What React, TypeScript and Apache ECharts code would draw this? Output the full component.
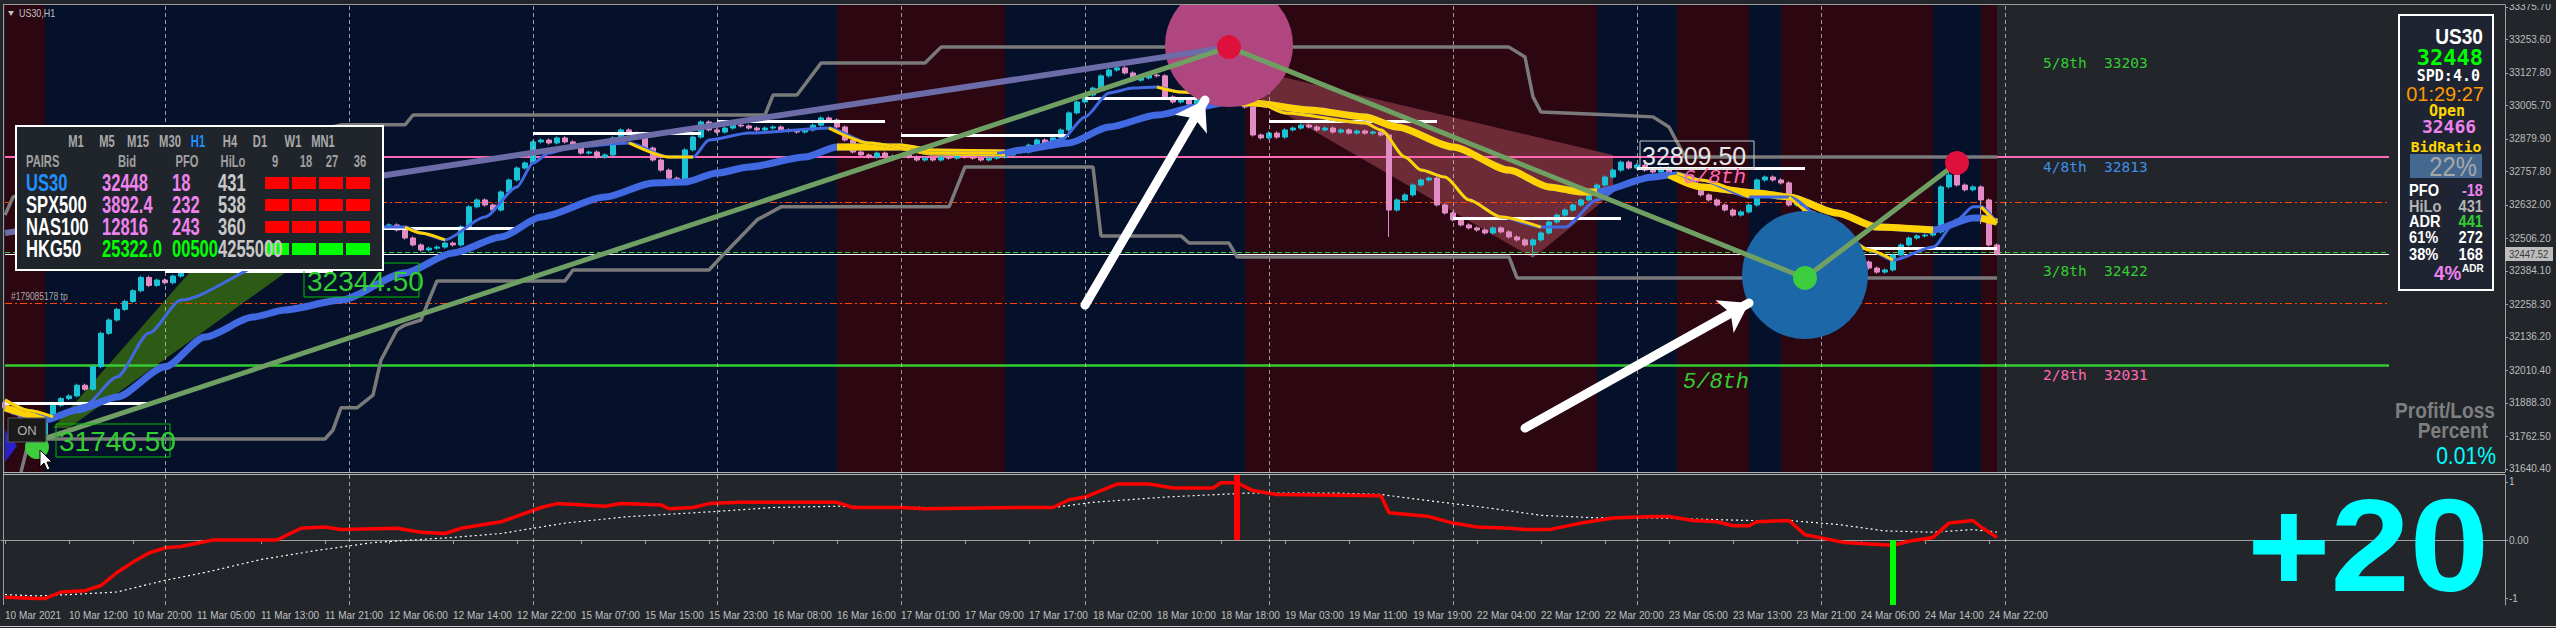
import React, { useEffect, useRef } from "react";
import * as echarts from "echarts";

// ---------------- DATA ----------------
const N_SLOTS = 313; // hourly slots on the time axis (incl. the empty right shift)

const TIME_TICKS = [
  "10 Mar 2021", "10 Mar 12:00", "10 Mar 20:00", "11 Mar 05:00", "11 Mar 13:00", "11 Mar 21:00",
  "12 Mar 06:00", "12 Mar 14:00", "12 Mar 22:00", "15 Mar 07:00", "15 Mar 15:00", "15 Mar 23:00",
  "16 Mar 08:00", "16 Mar 16:00", "17 Mar 01:00", "17 Mar 09:00", "17 Mar 17:00", "18 Mar 02:00",
  "18 Mar 10:00", "18 Mar 18:00", "19 Mar 03:00", "19 Mar 11:00", "19 Mar 19:00", "22 Mar 04:00",
  "22 Mar 12:00", "22 Mar 20:00", "23 Mar 05:00", "23 Mar 13:00", "23 Mar 21:00", "24 Mar 06:00",
  "24 Mar 14:00", "24 Mar 22:00",
];

const PRICE_TICKS = [
  33375.7, 33253.6, 33127.8, 33005.7, 32879.9, 32757.8, 32632.0, 32506.2,
  32384.1, 32258.3, 32136.2, 32010.4, 31888.3, 31762.5, 31640.4,
];
const PRICE_MIN = 31629.13;
const PRICE_MAX = 33383.21;
const BID = 32447.52;

const FIRST_OPEN = 31890;
const CLOSES = [
  31870, 31850, 31835, 31800, 31770, 31830, 31880, 31905, 31915, 31955,
  31940, 32025, 32150, 32200, 32240, 32270, 32310, 32360, 32330, 32350,
  32340, 32365, 32390, 32400, 32420, 32405, 32430, 32445, 32420, 32435,
  32410, 32395, 32385, 32400, 32420, 32445, 32470, 32460, 32490, 32500,
  32485, 32510, 32530, 32525, 32545, 32560, 32550, 32557, 32557, 32538,
  32508, 32482, 32463, 32470, 32474, 32489, 32482, 32550, 32625, 32651,
  32632, 32613, 32681, 32726, 32771, 32790, 32869, 32876, 32865, 32884,
  32869, 32846, 32827, 32831, 32812, 32820, 32884, 32914, 32902, 32887,
  32846, 32801, 32763, 32733, 32715, 32839, 32887, 32944, 32914, 32906,
  32921, 32932, 32929, 32921, 32914, 32921, 32925, 32914, 32910, 32906,
  32914, 32932, 32959, 32951, 32925, 32876, 32831, 32820, 32812, 32827,
  32812, 32816, 32820, 32812, 32801, 32808, 32801, 32812, 32808, 32820,
  32812, 32808, 32801, 32808, 32812, 32820, 32839, 32831, 32857, 32876,
  32850, 32884, 32914, 32978, 33019, 33045, 33071, 33117, 33139, 33147,
  33128, 33101, 33109, 33120, 33117, 33038, 33019, 33026, 33011, 33034,
  33060, 33110, 33170, 33150, 33080, 33000, 32895, 32884, 32902, 32887,
  32914, 32921, 32932, 32925, 32914, 32921, 32906, 32914, 32902, 32910,
  32902, 32906, 32895, 32613, 32651, 32670, 32707, 32726, 32733, 32632,
  32602, 32576, 32557, 32546, 32538, 32527, 32546, 32531, 32512, 32501,
  32482, 32501, 32527, 32568, 32594, 32613, 32632, 32651, 32670, 32707,
  32737, 32763, 32793, 32771, 32782, 32763, 32756, 32771, 32752, 32745,
  32733, 32707, 32670, 32651, 32632, 32613, 32594, 32606, 32632, 32726,
  32737, 32726, 32715, 32632, 32651, 32606, 32583, 32557, 32531, 32501,
  32470, 32444, 32418, 32395, 32380, 32388, 32444, 32482, 32508, 32516,
  32519, 32531, 32700, 32745, 32707, 32689, 32700, 32651, 32482, 32448,
];
// bars with a long wick: [low, high] (null = body end)
const WICK_EXTREMES: Record<number, [number | null, number | null]> = {
  4: [31746.5, null], 153: [null, 33223], 173: [32512, null],
  191: [32437, null], 243: [null, 32790], 247: [32560, null],
};

const THIN_MA = [
  [0, 31900], [3, 31860], [6, 31836], [10, 31880], [14, 31986], [18, 32151], [22, 32275], [34, 32426],
  [47, 32549], [50, 32549], [52, 32527], [55, 32501], [60, 32587], [64, 32700], [66, 32790], [68, 32827],
  [71, 32850], [78, 32865], [83, 32812], [86, 32812], [88, 32876], [93, 32902], [103, 32921], [108, 32865],
  [116, 32827], [124, 32827], [127, 32839], [132, 32876], [135, 32963], [138, 33053], [141, 33071], [144, 33075],
  [147, 33056], [156, 33026], [160, 32978], [170, 32940], [172, 32914], [175, 32812], [177, 32763], [180, 32737],
  [183, 32651], [187, 32587], [192, 32549], [195, 32549], [199, 32651], [202, 32700], [206, 32737], [209, 32752],
  [212, 32726], [218, 32662], [223, 32662], [229, 32538], [233, 32463], [236, 32425], [241, 32474], [244, 32576],
  [246, 32625], [247, 32625], [249, 32564],
];
const THIN_FALLING = [[0, 6], [50, 55], [78, 86], [103, 124], [144, 192], [209, 218], [223, 236], [247, 249]];

const THICK_MA = [
  [0, 31870], [5, 31825], [9, 31862], [14, 31911], [20, 32024], [25, 32136], [31, 32211], [35, 32238],
  [42, 32275], [50, 32377], [56, 32452], [62, 32512], [67, 32587], [75, 32662], [81, 32715], [85, 32718],
  [89, 32752], [93, 32775], [100, 32812], [104, 32850], [112, 32850], [116, 32831], [125, 32827], [127, 32839],
  [133, 32865], [138, 32925], [144, 32970], [149, 33000], [153, 33019], [156, 33015], [163, 32989], [170, 32963],
  [174, 32925], [181, 32850], [188, 32763], [193, 32700], [197, 32681], [199, 32681], [206, 32737], [208, 32745],
  [212, 32700], [219, 32677], [223, 32662], [229, 32602], [234, 32549], [241, 32538], [246, 32583], [247, 32583],
  [249, 32568],
];
const THICK_FALLING = [[0, 5], [104, 125], [153, 199], [208, 241], [247, 249]];

const UPPER_CHANNEL = [
  [0, 32594], [1, 32662], [42, 32933], [50, 32933], [51, 32970], [95, 32970], [96, 33045], [99, 33045],
  [102, 33165], [115, 33165], [117, 33225], [188, 33225], [190, 33188], [191, 33038], [192, 32981],
  [201, 32970], [206, 32963], [208, 32925], [210, 32812], [249, 32812],
];
const LOWER_CHANNEL = [
  [2, 31629], [3, 31749], [5, 31753], [40, 31753], [41, 31787], [42, 31870], [44, 31870], [46, 31918],
  [47, 32050], [49, 32163], [50, 32181], [52, 32200], [53, 32275], [54, 32347], [70, 32347], [71, 32388],
  [88, 32388], [90, 32452], [94, 32576], [97, 32625], [118, 32625], [120, 32775], [136, 32775], [137, 32516],
  [147, 32516], [148, 32489], [153, 32489], [154, 32437], [188, 32437], [189, 32358], [249, 32358],
];

const DAY_SEPARATORS = [20, 43, 66, 89, 112, 135, 158, 181, 204, 227, 250];
// [fromBar, toBar, session] 0 = bearish session, 1 = bullish session
const SESSION_BANDS = [
  [0, 5, 0], [5, 104, 1], [104, 125, 0], [125, 155, 1], [155, 199, 0], [199, 209, 1],
  [209, 218, 0], [218, 222, 1], [222, 241, 0], [241, 247, 1], [247, 249, 0],
];

// pink 4/8, orange TP/SL, green dashed, white bid, green 2/8
const LEVEL_PRICES = [32813, 32643, 32264, 32455, BID, 32031];
// daily pivot segments [fromBar, toBar, price]
const PIVOT_SEGMENTS = [
  [0, 18, 31889], [20, 41, 32384], [47, 64, 32545], [66, 87, 32902], [89, 110, 32947], [112, 133, 32894],
  [135, 149, 33034], [158, 179, 32947], [181, 202, 32583], [204, 225, 32771], [232, 249, 32470],
];

const TRENDLINE = [[0, 32527], [153, 33225]];
const ZIGZAG = [[4, 31745], [153, 33225], [225, 32358], [244, 32790]];
const ZIGZAG_HIGHS = [[153, 33225], [244, 32790]];
const ZIGZAG_LOWS = [[225, 32358], [4, 31723]];
const ZONE_CENTERS = [[153, 33233], [225, 32369]];
const ARROWS = [
  [[135, 32256], [150, 33026]],
  [[190, 31794], [218, 32264]],
];
const FALL_ZONE = [[156, 33139], [201, 32820], [201, 32677], [191, 32433], [157, 33026]];
const RISE_ZONE = [[6, 31794], [23, 32377], [35, 32377], [8, 31794]];

// sub window
const EQUITY_LINE = [
  [0, 6], [4, 5], [5, 5], [7, 10], [10, 11], [12, 15], [14, 25], [16, 33], [18, 40], [20, 44], [22, 45],
  [26, 50], [34, 50], [37, 59], [40, 60], [42, 58], [49, 59], [52, 56], [55, 55], [57, 59], [62, 64],
  [67, 75], [69, 78], [75, 76], [77, 78], [82, 77], [83, 74], [86, 75], [88, 78], [92, 79], [104, 79],
  [106, 75], [112, 75], [115, 74], [127, 75], [131, 75], [133, 81], [135, 83], [139, 93], [143, 93],
  [146, 90], [151, 90], [152, 94], [154, 94], [156, 88], [159, 85], [172, 84], [173, 71], [178, 68],
  [181, 63], [184, 60], [188, 59], [190, 58], [193, 58], [197, 63], [201, 67], [206, 68], [208, 68],
  [211, 65], [214, 64], [216, 61], [218, 61], [219, 64], [223, 65], [225, 54], [230, 48], [233, 47],
  [236, 46], [238, 49], [241, 52], [243, 63], [246, 65], [247, 60], [249, 52],
];
const SIGNAL_LINE = [
  [0, 8], [4, 7], [8, 8], [14, 10], [20, 19], [25, 25], [32, 35], [39, 42], [46, 48], [56, 52], [62, 55],
  [70, 63], [78, 68], [89, 72], [96, 75], [104, 76], [115, 75], [131, 75], [136, 79], [145, 83], [155, 86],
  [167, 86], [172, 85], [177, 81], [185, 75], [192, 69], [199, 67], [206, 67], [218, 65], [223, 65],
  [229, 62], [235, 57], [241, 56], [246, 58], [249, 56],
];
const HISTOGRAM = [[154, 1.12], [236, -1.12]];

// dashboard texts
const TF_LABELS = ["M1", "M5", "M15", "M30", "H1", "H4", "D1", "W1", "MN1"];
const COL_LABELS = ["PAIRS", "Bid", "PFO", "HiLo", "9", "18", "27", "36"];
const PAIRS = ["US30", "SPX500", "NAS100", "HKG50"];
const PAIR_BIDS = ["32448", "3892.4", "12816", "25322.0"];
const PAIR_PFO = ["18", "232", "243", "00500"];
const PAIR_HILO = ["431", "538", "360", "4255000"];
const PAIR_SIGNALS = [[0, 0, 0, 0], [0, 0, 0, 0], [0, 0, 0, 0], [1, 1, 1, 1]];
const FIB_LABELS = ["5/8th  33203", "4/8th  32813", "3/8th  32422", "2/8th  32031"];
const INFO_ROWS = [["PFO", "-18"], ["HiLo", "431"], ["ADR", "441"], ["61%", "272"], ["38%", "168"]];

// ---------------- STYLE ----------------
const BG = "#22262b";
const SANS = "'Liberation Sans', Arial, sans-serif";
const MONO = "'DejaVu Sans Mono', 'Liberation Mono', monospace";
const MONO2 = "'Liberation Mono', 'DejaVu Sans Mono', monospace";
const WICK = 6;

function buildOption() {
  const slots = Array.from({ length: N_SLOTS }, (_, i) => String(i));
  const candles = CLOSES.map((c, i) => {
    const o = i === 0 ? FIRST_OPEN : CLOSES[i - 1];
    const ext = WICK_EXTREMES[i];
    const lo = ext && ext[0] != null ? ext[0] : Math.min(o, c) - WICK;
    const hi = ext && ext[1] != null ? ext[1] : Math.max(o, c) + WICK;
    return [o, c, lo, hi];
  });
  const tickFn = (idx: number) => idx % 8 === 0 && idx / 8 < TIME_TICKS.length;

  const levelStyles = [
    { color: "#ff69b4", width: 2, type: "solid" },
    { color: "#ff4500", width: 1, type: [7, 3, 2, 3] },
    { color: "#ff4500", width: 1, type: [7, 3, 2, 3] },
    { color: "#32cd32", width: 1, type: [5, 3] },
    { color: "#ffffff", width: 1, type: "solid" },
    { color: "#32cd32", width: 2.5, type: "solid" },
  ];
  const LEVEL_END = 298;

  const maSeries = (pts: number[][], falling: number[][], width: number, z: number) => {
    const out: any[] = [
      {
        type: "line", xAxisIndex: 0, yAxisIndex: 0, data: pts, showSymbol: false, smooth: 0.25,
        smoothMonotone: "x", z, silent: true, lineStyle: { color: "#4169e1", width },
      },
    ];
    falling.forEach(([a, b]) => {
      out.push({
        type: "line", xAxisIndex: 0, yAxisIndex: 0, data: pts.filter((p) => p[0] >= a && p[0] <= b),
        showSymbol: false, smooth: 0.25, smoothMonotone: "x", z: z + 0.1, silent: true,
        lineStyle: { color: "#ffd200", width },
      });
    });
    return out;
  };

  const polygons = [
    { pts: FALL_ZONE, fill: "#6d2a37" },
    { pts: RISE_ZONE, fill: "#2d5a14" },
  ];

  // ---- overlay graphics (dashboards, labels) ----
  const ov: any[] = [];
  let zc = 100;
  const add = (el: any) => { el.z = zc++; el.silent = true; ov.push(el); };
  const T = (x: number, y: number, text: string, font: string, fill: string, align = "left", sx = 1) =>
    add({
      type: "text", x, y, scaleX: sx,
      style: { text, font, fill, align, textAlign: align, verticalAlign: "middle", textVerticalAlign: "middle" },
    });
  const R = (x: number, y: number, w: number, h: number, fill: string, stroke?: string, lw = 1) =>
    add({ type: "rect", shape: { x, y, width: w, height: h }, style: { fill, stroke: stroke || null, lineWidth: lw } });
  const L = (x1: number, y1: number, x2: number, y2: number, stroke: string, lw = 1) =>
    add({ type: "line", shape: { x1, y1, x2, y2 }, style: { stroke, lineWidth: lw } });
  const P = (points: number[][], fill: string, stroke?: string) =>
    add({ type: "polygon", shape: { points }, style: { fill, stroke: stroke || null, lineWidth: 1 } });

  R(0, 0, 2556, 4, BG);
  L(3, 4.5, 2505, 4.5, "#9c9c9c");
  L(3.5, 4, 3.5, 605, "#9c9c9c");
  L(3, 472.5, 2505, 472.5, "#b4b4b4");
  L(3, 474.5, 2505, 474.5, "#b4b4b4");
  L(0, 626.5, 2556, 626.5, "#c8c8c8");

  // chart-side labels
  P([[5, 430], [17, 446], [5, 462]], "#2a22c8");
  R(304, 263, 115, 34, "none", "#00c000", 1);
  T(307, 281, "32344.50", `28px ${SANS}`, "#32cd32");
  R(56, 424, 114, 33, "none", "#00c000", 1);
  T(59, 441, "31746.50", `28px ${SANS}`, "#32cd32");
  R(8, 418, 38, 24, "#1a1a1a", "#5a5a5a", 1);
  T(27, 430, "ON", `13px ${SANS}`, "#b0b0b0", "center");
  P([[40, 450], [40, 467], [44, 463], [47, 470], [50, 469], [47, 462], [52, 462]], "#ffffff", "#000000");
  T(11, 297, "#179085178 tp", `10px ${SANS}`, "#a8a8a8", "left", 0.85);
  P([[8, 11], [14, 11], [11, 16]], "#c0c0c0");
  T(19, 13, "US30,H1", `10.5px ${SANS}`, "#c0c0c0", "left", 0.85);

  // multi-pair table
  R(16, 126, 367, 144, "#20252c", "#ffffff", 2);
  const tfX = [76, 107, 138, 170, 198, 230, 260, 293, 323];
  TF_LABELS.forEach((t, k) => T(tfX[k], 141, t, `bold 16px ${SANS}`, t === "H1" ? "#1e90ff" : "#a9a9a9", "center", 0.7));
  const colX = [26, 127, 187, 233, 275, 306, 332, 360];
  COL_LABELS.forEach((t, k) => T(colX[k], 161, t, `bold 16px ${SANS}`, "#a0a0a0", k === 0 ? "left" : "center", 0.7));
  const rowY = [183, 205, 227, 249];
  const boxX = [265, 292, 319, 346];
  PAIRS.forEach((p, r) => {
    PAIR_SIGNALS[r].forEach((s, k) => R(boxX[k], rowY[r] - 6, 24, 12, s ? "#00ff00" : "#ff0000"));
  });
  PAIRS.forEach((p, r) => {
    const f = `bold 23px ${SANS}`;
    T(26, rowY[r], p, f, r === 0 ? "#1e90ff" : "#ffffff", "left", 0.72);
    T(102, rowY[r], PAIR_BIDS[r], f, r === 3 ? "#00ff00" : "#ee82ee", "left", 0.72);
    T(172, rowY[r], PAIR_PFO[r], f, r === 3 ? "#00ff00" : "#ee82ee", "left", 0.72);
    T(218, rowY[r], PAIR_HILO[r], f, "#c8c8c8", "left", 0.72);
  });

  // price tags on chart
  R(1640, 141, 114, 28, "none", "#c8c8c8", 1);
  T(1642, 156, "32809.50", `25px ${SANS}`, "#e6e6e6");
  T(1683, 177, "6/8th", `italic 21px ${MONO2}`, "#ff69b4");
  T(1683, 382, "5/8th", `italic 22px ${MONO2}`, "#32cd32");

  // murrey math labels
  const fibY = [63, 167, 271, 375];
  const fibC = ["#32cd32", "#3d8fe8", "#32cd32", "#ff69b4"];
  FIB_LABELS.forEach((t, k) => T(2043, fibY[k], t, `14.5px ${MONO}`, fibC[k]));

  // info box
  R(2399, 15, 94, 275, "#1e2431", "#ffffff", 2);
  T(2483, 36, "US30", `bold 22px ${SANS}`, "#ffffff", "right", 0.87);
  T(2483, 57, "32448", `bold 22px ${MONO}`, "#00ff00", "right");
  T(2480, 76, "SPD:4.0", `bold 15px ${MONO}`, "#ffffff", "right");
  T(2484, 94, "01:29:27", `20px ${SANS}`, "#ff9900", "right");
  T(2447, 111, "Open", `bold 15px ${MONO}`, "#ffd700", "center");
  T(2449, 126, "32466", `bold 18px ${MONO}`, "#ee82ee", "center");
  T(2446, 146, "BidRatio", `bold 14.7px ${MONO}`, "#ffd700", "center");
  R(2410, 154, 72, 24, "#44688f");
  T(2453, 166, "22%", `28px ${SANS}`, "#a8a8a8", "center", 0.85);
  const infoY = [190, 206, 221, 237, 254];
  const infoL = ["#ffffff", "#b4b4b4", "#ffffff", "#ffffff", "#ffffff"];
  const infoR = ["#ee82ee", "#b4b4b4", "#32cd32", "#ffffff", "#ffffff"];
  INFO_ROWS.forEach(([a, b], k) => {
    T(2409, infoY[k], a, `bold 17px ${SANS}`, infoL[k], "left", 0.86);
    T(2483, infoY[k], b, `bold 17px ${SANS}`, infoR[k], "right", 0.86);
  });
  T(2434, 273, "4%", `bold 21px ${SANS}`, "#ee82ee", "left", 0.9);
  T(2462, 268, "ADR", `bold 10px ${SANS}`, "#ffffff");

  T(2495, 410, "Profit/Loss", `bold 22px ${SANS}`, "#7f7f7f", "right", 0.87);
  T(2488, 430, "Percent", `bold 22px ${SANS}`, "#7f7f7f", "right", 0.87);
  T(2496, 456, "0.01%", `24px ${SANS}`, "#00ffff", "right", 0.88);
  T(2489, 545, "+20", `bold 132px ${SANS}`, "#00ffff", "right", 1.08);

  // current bid tag on price scale
  R(2505, 247, 48, 14, "#bdbdbd");
  T(2509, 254.5, "32447.52", `10.5px ${SANS}`, "#3a3a3a", "left", 0.9);

  const hiddenLine = { color: "#000", opacity: 0, width: 0 };

  return {
    animation: false,
    backgroundColor: BG,
    grid: [
      { left: 1, right: 51, top: 5, height: 467, containLabel: false, outerBoundsMode: "none" },
      { left: 1, right: 51, top: 475, height: 130, containLabel: false, outerBoundsMode: "none" },
    ],
    xAxis: [
      {
        type: "category", gridIndex: 0, data: slots, boundaryGap: true,
        axisLine: { show: false }, axisTick: { show: false }, axisLabel: { show: false }, splitLine: { show: false },
      },
      {
        type: "category", gridIndex: 1, data: slots, boundaryGap: true,
        axisLine: { show: true, lineStyle: { color: "#a0a0a0", width: 1 } },
        axisTick: { show: true, interval: tickFn, alignWithLabel: true, length: 4, lineStyle: { color: "#a0a0a0" } },
        axisLabel: {
          show: true, interval: tickFn, align: "left", margin: 5, color: "#c0c0c0", fontSize: 10,
          fontFamily: SANS, hideOverlap: false,
          formatter: (_v: string, idx: number) => TIME_TICKS[idx / 8] || "",
        },
        splitLine: { show: false },
      },
    ],
    yAxis: [
      {
        type: "value", gridIndex: 0, position: "right", min: PRICE_MIN, max: PRICE_MAX,
        axisLine: { show: true, lineStyle: { color: "#a0a0a0" } },
        axisTick: { show: true, customValues: PRICE_TICKS, length: 3, lineStyle: { color: "#a0a0a0" } },
        axisLabel: {
          show: true, customValues: PRICE_TICKS, margin: 4, color: "#bdbdbd", fontSize: 10, fontFamily: SANS,
          formatter: (v: number) => v.toFixed(2),
        },
        splitLine: { show: false },
      },
      {
        type: "value", gridIndex: 1, position: "right", min: -1.12, max: 1.12,
        axisLine: { show: true, lineStyle: { color: "#a0a0a0" } },
        axisTick: { show: true, customValues: [-1, 0, 1], length: 3, lineStyle: { color: "#a0a0a0" } },
        axisLabel: {
          show: true, customValues: [-1, 0, 1], margin: 4, color: "#bdbdbd", fontSize: 10, fontFamily: SANS,
          formatter: (v: number) => (v === 0 ? "0.00" : String(v)),
        },
        splitLine: { show: false },
      },
      { type: "value", gridIndex: 1, min: 0, max: 100, show: false, splitLine: { show: false } },
    ],
    series: [
      // session background bands
      {
        type: "line", xAxisIndex: 0, yAxisIndex: 0, z: 0, silent: true, showSymbol: false,
        data: CLOSES.map((c, i) => [i, c]), lineStyle: hiddenLine,
        markArea: {
          silent: true, label: { show: false },
          data: SESSION_BANDS.map(([a, b, k]) => [
            { xAxis: a, itemStyle: { color: k ? "#05102a" : "#2c0712", opacity: 1 } },
            { xAxis: b },
          ]),
        },
      },
      // day separators (main)
      {
        type: "line", xAxisIndex: 0, yAxisIndex: 0, z: 1, silent: true, showSymbol: false,
        data: [[0, CLOSES[0]]], lineStyle: hiddenLine,
        markLine: {
          silent: true, symbol: ["none", "none"], label: { show: false },
          lineStyle: { color: "rgba(200,200,200,0.75)", width: 1, type: [4, 3] },
          data: DAY_SEPARATORS.map((s) => ({ xAxis: s })),
        },
      },
      // shaded zones
      {
        type: "custom", xAxisIndex: 0, yAxisIndex: 0, z: 2, silent: true, clip: false,
        data: polygons.map((p) => p.pts[0]),
        renderItem: (params: any, api: any) => {
          const poly = polygons[params.dataIndex];
          return {
            type: "polygon",
            shape: { points: poly.pts.map((p) => api.coord(p)) },
            style: { fill: poly.fill },
          };
        },
      },
      // horizontal levels
      {
        type: "lines", coordinateSystem: "cartesian2d", xAxisIndex: 0, yAxisIndex: 0, z: 3, silent: true,
        polyline: false,
        data: LEVEL_PRICES.map((p, k) => ({
          coords: [[0, p], [LEVEL_END, p]],
          lineStyle: { ...levelStyles[k], opacity: 1 },
        })),
      },
      // candles
      {
        type: "candlestick", xAxisIndex: 0, yAxisIndex: 0, z: 4, silent: true, barWidth: 5,
        data: candles,
        itemStyle: {
          color: "#19c3d5", color0: "#e28cc6", borderColor: "#19c3d5", borderColor0: "#e28cc6", borderWidth: 1,
        },
      },
      // channels
      {
        type: "line", xAxisIndex: 0, yAxisIndex: 0, z: 5, silent: true, showSymbol: false,
        data: UPPER_CHANNEL, lineStyle: { color: "#7a7a7a", width: 3.5 },
      },
      {
        type: "line", xAxisIndex: 0, yAxisIndex: 0, z: 5, silent: true, showSymbol: false,
        data: LOWER_CHANNEL, lineStyle: { color: "#7a7a7a", width: 3.5 },
      },
      // daily pivot segments
      {
        type: "lines", coordinateSystem: "cartesian2d", xAxisIndex: 0, yAxisIndex: 0, z: 6, silent: true,
        data: PIVOT_SEGMENTS.map(([a, b, p]) => ({ coords: [[a, p], [b, p]] })),
        lineStyle: { color: "#ffffff", width: 3, opacity: 1 },
      },
      ...maSeries(THICK_MA, THICK_FALLING, 7, 7),
      ...maSeries(THIN_MA, THIN_FALLING, 3, 7.5),
      // zones (ellipses)
      {
        type: "scatter", xAxisIndex: 0, yAxisIndex: 0, z: 8, silent: true, symbol: "circle", clip: false,
        data: [
          { value: ZONE_CENTERS[0], symbolSize: [128, 124], itemStyle: { color: "#b0467f", opacity: 1 } },
          { value: ZONE_CENTERS[1], symbolSize: [126, 128], itemStyle: { color: "#1b67a8", opacity: 1 } },
        ],
      },
      // trend lines
      {
        type: "lines", coordinateSystem: "cartesian2d", xAxisIndex: 0, yAxisIndex: 0, z: 9, silent: true,
        data: [{ coords: TRENDLINE }], lineStyle: { color: "#6c6ca8", width: 6, opacity: 1 },
      },
      {
        type: "line", xAxisIndex: 0, yAxisIndex: 0, z: 9, silent: true, showSymbol: false,
        data: ZIGZAG, lineStyle: { color: "#6f9f63", width: 5 },
      },
      {
        type: "scatter", xAxisIndex: 0, yAxisIndex: 0, z: 10, silent: true, symbolSize: 24, clip: false,
        data: [
          ...ZIGZAG_HIGHS.map((v) => ({ value: v, itemStyle: { color: "#e0103c", opacity: 1 } })),
          ...ZIGZAG_LOWS.map((v) => ({ value: v, itemStyle: { color: "#3dcc3d", opacity: 1 } })),
        ],
      },
      // arrows
      {
        type: "lines", coordinateSystem: "cartesian2d", xAxisIndex: 0, yAxisIndex: 0, z: 11, silent: true,
        symbol: ["none", "arrow"], symbolSize: 28,
        data: ARROWS.map((a) => ({ coords: a })),
        lineStyle: { color: "#ffffff", width: 9, opacity: 1, cap: "round" },
      },
      // ---- sub window ----
      {
        type: "line", xAxisIndex: 1, yAxisIndex: 2, z: 1, silent: true, showSymbol: false,
        data: [[0, 0]], lineStyle: hiddenLine,
        markLine: {
          silent: true, symbol: ["none", "none"], label: { show: false },
          lineStyle: { color: "rgba(200,200,200,0.75)", width: 1, type: [4, 3] },
          data: DAY_SEPARATORS.map((s) => ({ xAxis: s })),
        },
      },
      {
        type: "line", xAxisIndex: 1, yAxisIndex: 2, z: 2, silent: true, showSymbol: false,
        data: SIGNAL_LINE, lineStyle: { color: "#ffffff", width: 1.2, type: [2, 3] },
      },
      {
        type: "line", xAxisIndex: 1, yAxisIndex: 2, z: 3, silent: true, showSymbol: false,
        data: EQUITY_LINE, lineStyle: { color: "#ff0000", width: 3.5 },
      },
      {
        type: "bar", xAxisIndex: 1, yAxisIndex: 1, z: 4, silent: true, barWidth: 6,
        data: HISTOGRAM.map(([i, v]) => ({ value: [i, v], itemStyle: { color: v > 0 ? "#ff0000" : "#00ff00" } })),
      },
    ],
    graphic: { elements: ov },
  };
}

export default function App() {
  const ref = useRef<HTMLDivElement>(null);
  useEffect(() => {
    document.body.style.margin = "0";
    document.body.style.background = BG;
    const chart = echarts.init(ref.current as HTMLDivElement, null, { renderer: "svg" });
    chart.setOption(buildOption() as any);
    return () => chart.dispose();
  }, []);
  return <div ref={ref} style={{ width: 2556, height: 628 }} />;
}
